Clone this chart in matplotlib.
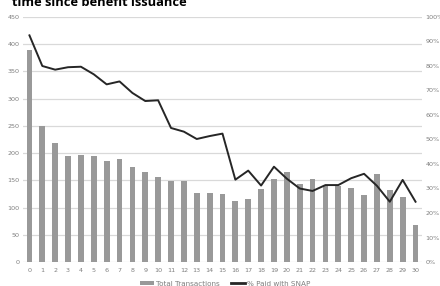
import matplotlib
matplotlib.use('Agg')
import matplotlib.pyplot as plt
from matplotlib.patches import Patch
from matplotlib.lines import Line2D
import numpy as np

# days since benefit issuance
days = list(range(31))
total_transactions = [389, 249, 218, 195, 196, 195, 185, 190, 175, 165,
                      156, 148, 149, 126, 126, 124, 112, 115, 134, 153,
                      165, 143, 153, 140, 140, 135, 123, 161, 132, 119, 68]
pct_snap = [92.5, 80, 78.5, 79.5, 79.7, 76.6, 72.5, 73.7, 69, 65.7,
            66, 54.7, 53.2, 50.2, 51.4, 52.4, 33.6, 37.3, 31.2, 38.9,
            34, 30, 29, 31.4, 31.4, 34.2, 36, 31.1, 24.6, 33.5, 24.6]

title_text = 'time since benefit issuance'
left_ticks = [0, 50, 100, 150, 200, 250, 300, 350, 400, 450]
right_ticks = [0, 10, 20, 30, 40, 50, 60, 70, 80, 90, 100]

tick_color = '#7f7f7f'
grid_color = '#d9d9d9'
bar_color = '#999999'
line_color = '#262626'

fig = plt.figure(figsize=(4.4, 2.86), dpi=100)
ax = fig.add_axes([0.0523, 0.0839, 0.9067, 0.8567])

ax.bar(days, total_transactions, width=0.45, color=bar_color, zorder=2)
ax.set_xlim(-0.5, 30.5)
ax.set_ylim(0, 450)
ax.set_yticks(left_ticks)
ax.set_xticks(days)
ax.grid(axis='y', color=grid_color, linewidth=0.9, zorder=0)
ax.set_axisbelow(True)
for s in ax.spines.values():
    s.set_visible(False)
ax.tick_params(length=0, labelsize=4.6, colors=tick_color, pad=4)
ax.tick_params(axis='y', pad=2.5)

ax2 = ax.twinx()
ax2.plot(days, pct_snap, color=line_color, linewidth=1.4, zorder=3)
ax2.set_ylim(0, 100)
ax2.set_yticks(right_ticks)
ax2.set_yticklabels([f'{t}%' for t in right_ticks])
for s in ax2.spines.values():
    s.set_visible(False)
ax2.tick_params(length=0, labelsize=4.6, colors=tick_color, pad=2.5)

# title (second line only, top cut by the crop)
fig.text(0.028, 0.979, title_text, fontsize=9.3, fontweight='bold',
         family='Open Sans', color='black', va='baseline', ha='left')

handles = [Patch(facecolor=bar_color, edgecolor='none'),
           Line2D([0], [0], color=line_color, linewidth=2)]
fig.legend(handles, ['Total Transactions', '% Paid with SNAP'],
           loc='center', bbox_to_anchor=(0.512, 0.008), ncol=2, frameon=False,
           fontsize=5.2, labelcolor=tick_color, handlelength=1.9,
           handleheight=0.6, handletextpad=0.3, columnspacing=1.6)

fig.savefig('out.png', dpi=100)
